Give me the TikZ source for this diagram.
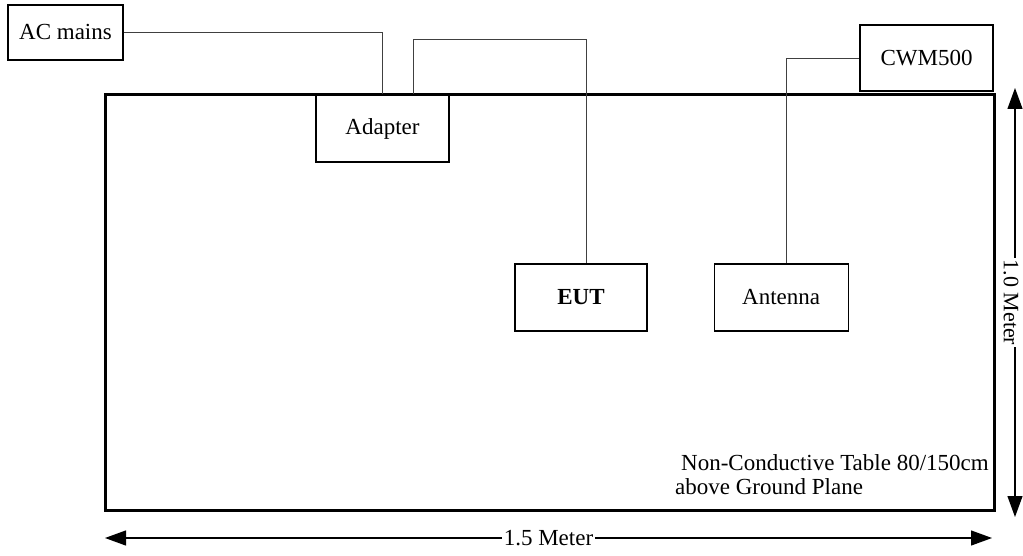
\documentclass[tikz,border=0pt]{standalone}
\usepackage{fontspec}
\setmainfont{Liberation Serif}
\usetikzlibrary{positioning, arrows.meta, calc}

\begin{document}
\begin{tikzpicture}[
    x = 1pt, y = -1pt,
    font = \fontsize{23}{24}\selectfont,
    device/.style = {rectangle, draw, line width = 1.2pt, inner sep = 0pt},
    testtable/.style = {rectangle, draw, line width = 3pt, inner sep = 0pt},
    cable/.style = {draw, line width = 0.9pt, black!75},
    dim/.style = {{Triangle[length = 21pt, width = 15pt]}-{Triangle[length = 21pt, width = 15pt]}, line width = 1.2pt},
    dimlabel/.style = {fill = white, inner xsep = 2pt, inner ysep = 0pt},
    ]

    \useasboundingbox (0,0) rectangle (1023,556);

    % draw the table and the devices on it
    \node [testtable, minimum width = 889pt, minimum height = 415pt] (table) at (549.5,302.5) {};
    \node [device, minimum width = 115pt, minimum height = 55pt] (acmains) at (65.5,32.5) {AC mains};
    \node [device, minimum width = 133pt, minimum height = 67pt] (adapter) at (382.5,128.5) {Adapter};
    \node [device, minimum width = 132pt, minimum height = 67pt] (eut) at (581,297.5) {\textbf{EUT}};
    \node [device, minimum width = 134pt, minimum height = 67pt] (antenna) [right = 66pt of eut] {Antenna};
    \node [device, minimum width = 133pt, minimum height = 66pt] (cwm) at (926.5,58) {CWM500};
    \node [anchor = north west, align = left, inner sep = 0pt] (note) at (675,454) {\hspace{6pt}Non-Conductive Table 80/150cm\\above Ground Plane};

    % draw cables
    \coordinate (adapterout) at ($(adapter.north)+(31,0)$);
    \draw [cable] (acmains.east) -| (adapter.north);
    \draw [cable] (adapterout) -- ++(0,-55) -| ($(eut.north)+(5,0)$);
    \draw [cable] ($(antenna.north)+(5,0)$) |- (cwm.west);

    % draw dimensions
    \coordinate (dimleft) at (105,538);
    \coordinate (dimright) at (992,538);
    \coordinate (dimtop) at (1015,88);
    \coordinate (dimbottom) at (1015,517);
    \draw [dim] (dimleft) to node [dimlabel] {1.5 Meter} (dimright);
    \draw [dim] (dimtop) to node [dimlabel, xshift = -4pt, rotate = -90, font = \fontsize{22}{24}\selectfont] {1.0 Meter} (dimbottom);
\end{tikzpicture}
\end{document}
